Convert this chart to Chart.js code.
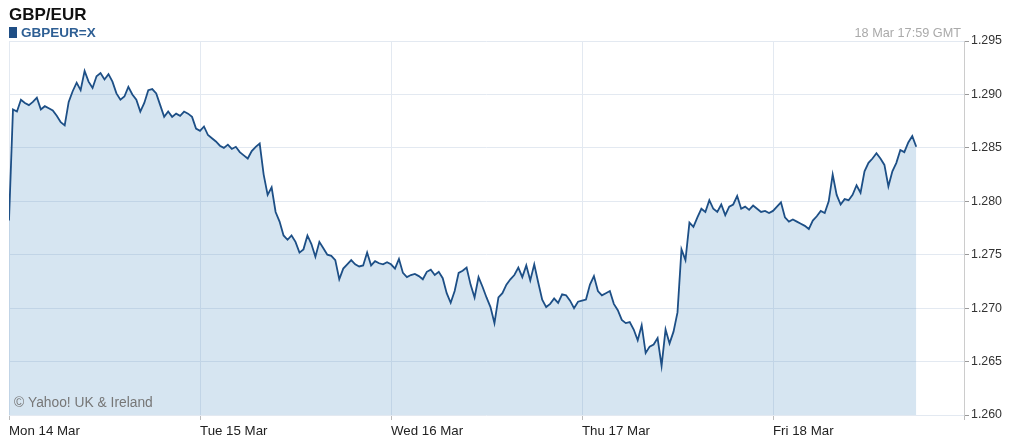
<!DOCTYPE html>
<html lang="en">
<head>
    <meta charset="UTF-8">
    <title>GBP/EUR</title>
    <style>
        html, body { margin: 0; padding: 0; background: #fff; }
        canvas { display: block; }
    </style>
</head>
<body>

<script src="https://cdn.jsdelivr.net/npm/chart.js@4/dist/chart.umd.min.js"></script>
<canvas id="fx-chart" width="1014" height="444"></canvas>

<script>
    // day labels on the x axis (one tick per day, 24h apart)
    const dayLabels = ["Mon 14 Mar", "Tue 15 Mar", "Wed 16 Mar", "Thu 17 Mar", "Fri 18 Mar"];
    const yTicks = [1.260, 1.265, 1.270, 1.275, 1.280, 1.285, 1.290, 1.295];

    // GBPEUR=X, one value every 30 minutes
    const monValues = [
        1.2782, 1.2886, 1.2884, 1.2895, 1.2892, 1.2890, 1.2893, 1.2897, 1.2886, 1.2889,
        1.2887, 1.2885, 1.2880, 1.2874, 1.2871, 1.2893, 1.2903, 1.2911, 1.2904, 1.2922,
        1.2912, 1.2906, 1.2917, 1.2920, 1.2914, 1.2919, 1.2912, 1.2901, 1.2895, 1.2898,
        1.2907, 1.2900, 1.2895, 1.2884, 1.2892, 1.2904, 1.2905, 1.2901, 1.2890, 1.2879,
        1.2884, 1.2879, 1.2882, 1.2880, 1.2884, 1.2882, 1.2879, 1.2868
    ];
    const tueValues = [
        1.2866, 1.2870, 1.2862, 1.2859, 1.2856, 1.2852, 1.2850, 1.2853, 1.2849, 1.2851,
        1.2846, 1.2843, 1.2840, 1.2847, 1.2851, 1.2854, 1.2825, 1.2806, 1.2813, 1.2790,
        1.2781, 1.2768, 1.2764, 1.2768, 1.2762, 1.2752, 1.2755, 1.2768, 1.2760, 1.2748,
        1.2762, 1.2756, 1.2750, 1.2749, 1.2745, 1.2727, 1.2737, 1.2741, 1.2745, 1.2741,
        1.2739, 1.2740, 1.2752, 1.2740, 1.2744, 1.2742, 1.2741, 1.2743
    ];
    const wedValues = [
        1.2741, 1.2737, 1.2746, 1.2733, 1.2729, 1.2731, 1.2732, 1.2730, 1.2727, 1.2734,
        1.2736, 1.2731, 1.2734, 1.2728, 1.2714, 1.2705, 1.2716, 1.2733, 1.2735, 1.2738,
        1.2722, 1.2710, 1.2729, 1.2720, 1.2710, 1.2701, 1.2686, 1.2710, 1.2714, 1.2722,
        1.2727, 1.2731, 1.2738, 1.2729, 1.2740, 1.2726, 1.2741, 1.2724, 1.2708, 1.2701,
        1.2704, 1.2709, 1.2705, 1.2713, 1.2712, 1.2707, 1.2700, 1.2706
    ];
    const thuValues = [
        1.2707, 1.2708, 1.2722, 1.2730, 1.2716, 1.2712, 1.2714, 1.2716, 1.2704, 1.2698,
        1.2689, 1.2686, 1.2687, 1.2680, 1.2670, 1.2684, 1.2658, 1.2664, 1.2666, 1.2672,
        1.2646, 1.2680, 1.2667, 1.2678, 1.2696, 1.2755, 1.2745, 1.2780, 1.2776, 1.2785,
        1.2793, 1.2790, 1.2801, 1.2793, 1.2790, 1.2797, 1.2787, 1.2795, 1.2797, 1.2805,
        1.2793, 1.2795, 1.2792, 1.2796, 1.2793, 1.2790, 1.2791, 1.2789
    ];
    const friValues = [
        1.2791, 1.2795, 1.2799, 1.2785, 1.2781, 1.2783, 1.2781, 1.2779, 1.2777, 1.2774,
        1.2782, 1.2786, 1.2791, 1.2789, 1.2800, 1.2825, 1.2806, 1.2797, 1.2802, 1.2801,
        1.2806, 1.2815, 1.2808, 1.2828, 1.2836, 1.2840, 1.2845, 1.2840, 1.2834, 1.2814,
        1.2828, 1.2836, 1.2848, 1.2846, 1.2855, 1.2861, 1.2851
    ];

    const FONT = '"Liberation Sans", Arial, sans-serif';

    function buildPoints() {
        const days = [monValues, tueValues, wedValues, thuValues, friValues];
        const points = [];
        for (let d = 0; d < days.length; d++) {
            for (let i = 0; i < days[d].length; i++) {
                // x in hours since Mon 00:00
                points.push({x: d * 24 + i * 0.5, y: days[d][i]});
            }
        }
        return points;
    }

    // header texts and the copyright note
    const headerPlugin = {
        id: 'header',
        afterDraw(chart) {
            const ctx = chart.ctx;
            const area = chart.chartArea;
            ctx.save();
            ctx.textBaseline = 'middle';

            ctx.fillStyle = '#111';
            ctx.font = 'bold 17px ' + FONT;
            ctx.textAlign = 'left';
            ctx.fillText('GBP/EUR', 9, 15);

            ctx.fillStyle = '#1f4e85';
            ctx.fillRect(9, 27, 8, 11);
            ctx.fillStyle = '#2e5f94';
            ctx.font = 'bold 13.5px ' + FONT;
            ctx.fillText('GBPEUR=X', 21, 33);

            ctx.fillStyle = '#aaa';
            ctx.font = '12.7px ' + FONT;
            ctx.textAlign = 'right';
            ctx.fillText('18 Mar 17:59 GMT', 961, 33);

            ctx.fillStyle = '#777';
            ctx.font = '13.8px ' + FONT;
            ctx.textAlign = 'left';
            ctx.fillText('\u00A9 Yahoo! UK & Ireland', area.left + 5, 403);
            ctx.restore();
        }
    };

    new Chart(document.getElementById("fx-chart"), {
        type: 'line',
        data: {
            datasets: [{
                label: 'GBPEUR=X',
                data: buildPoints(),
                borderColor: '#1d4f86',
                borderWidth: 1.8,
                backgroundColor: 'rgba(91,151,199,0.25)',
                fill: 'start',
                pointRadius: 0,
                tension: 0
            }]
        },
        options: {
            responsive: false,
            animation: false,
            layout: {padding: {left: 9, top: 41, right: 0, bottom: 0}},
            plugins: {
                legend: {display: false},
                tooltip: {enabled: false}
            },
            scales: {
                x: {
                    type: 'linear',
                    min: 0,
                    max: 120,
                    afterFit(scale) { scale.height = 29; },
                    afterBuildTicks(scale) {
                        scale.ticks = [0, 24, 48, 72, 96, 120].map(v => ({value: v}));
                    },
                    border: {display: false},
                    grid: {color: '#e3e9f1', tickLength: 5, tickColor: '#bbb'},
                    ticks: {
                        autoSkip: false,
                        maxRotation: 0,
                        align: 'start',
                        padding: 3,
                        color: '#222',
                        font: {family: FONT, size: 13.3},
                        callback: (v) => dayLabels[v / 24] || ''
                    }
                },
                y: {
                    position: 'right',
                    min: 1.26,
                    max: 1.295,
                    afterFit(scale) { scale.width = 50; },
                    afterBuildTicks(scale) {
                        scale.ticks = yTicks.map(v => ({value: v}));
                    },
                    border: {display: true, color: '#ccc'},
                    grid: {color: '#e3e9f1', tickLength: 5, tickColor: '#999'},
                    ticks: {
                        padding: 2,
                        color: '#333',
                        font: {family: FONT, size: 12.4},
                        callback: (v) => v.toFixed(3)
                    }
                }
            }
        },
        plugins: [headerPlugin]
    });
</script>

</body>
</html>
